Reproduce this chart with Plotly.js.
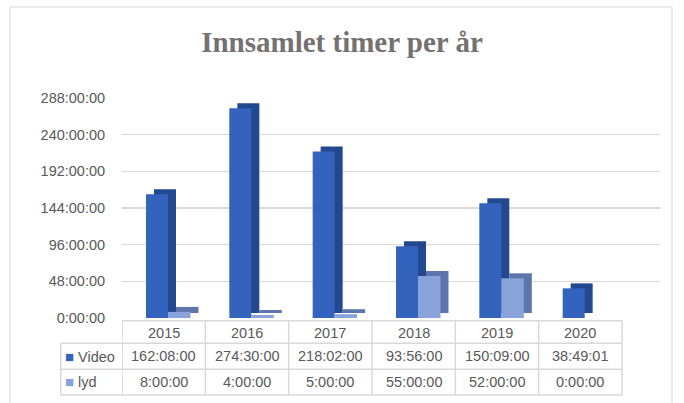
<!DOCTYPE html>
<html>
<head>
<meta charset="utf-8">
<script src="https://cdn.plot.ly/plotly-3.0.1.min.js"></script>
<style>html,body{margin:0;padding:0;background:#fff;}#chart{width:684px;height:403px;}</style>
</head>
<body>
<div id="chart"></div>
<script>
// ---- data ----
const years = ['2015', '2016', '2017', '2018', '2019', '2020'];
const videoLabels = ['162:08:00', '274:30:00', '218:02:00', '93:56:00', '150:09:00', '38:49:01'];
const lydLabels = ['8:00:00', '4:00:00', '5:00:00', '55:00:00', '52:00:00', '0:00:00'];
const videoHours = [162.133, 274.5, 218.033, 93.933, 150.15, 38.817];
const lydHours = [8, 4, 5, 55, 52, 0];
const seriesNames = ['Video', 'lyd'];
const yTickVals = [0, 48, 96, 144, 192, 240, 288];
const yTickText = ['0:00:00', '48:00:00', '96:00:00', '144:00:00', '192:00:00', '240:00:00', '288:00:00'];

// ---- styles ----
const videoFront = '#3463be', videoDepth = '#22498f';
const lydFront = '#88a2da', lydDepth = '#5c76ab';
const textColor = '#595959';
const lineColor = '#d9d9d9';
const depthH = 6.5; // visual depth of the 3D look, in axis units

const traces = [
  {type: 'bar', x: years, y: videoHours, base: depthH, offset: -0.116, width: 0.264,
   marker: {color: videoDepth}, hoverinfo: 'skip', showlegend: false},
  {type: 'bar', x: years, y: videoHours, name: seriesNames[0], offset: -0.212, width: 0.264,
   marker: {color: videoFront}, showlegend: false},
  {type: 'bar', x: years, y: lydHours, base: depthH, offset: 0.148, width: 0.27,
   marker: {color: lydDepth}, hoverinfo: 'skip', showlegend: false},
  {type: 'bar', x: years, y: lydHours, name: seriesNames[1], offset: 0.052, width: 0.27,
   marker: {color: lydFront}, showlegend: false}
];

// table geometry (paper y)
const rowLines = [-0.0123, -0.115, -0.233, -0.35];
const rowText = [-0.068, -0.173, -0.29];
const legendLeft = -0.1139;
const tableRight = years.length / (years.length + 0.456);

const shapes = [];
// outer chart border
shapes.push({type: 'rect', xref: 'paper', yref: 'paper', x0: -0.2082, x1: 1.0223, y0: -0.5, y1: 1.4136,
  line: {color: '#d9d9d9', width: 1}, fillcolor: 'rgba(0,0,0,0)', layer: 'below'});
// horizontal table lines
shapes.push({type: 'line', xref: 'x', yref: 'paper', x0: -0.5, x1: years.length - 0.5, y0: rowLines[0], y1: rowLines[0],
  line: {color: lineColor, width: 1.5}});
for (let i = 1; i < rowLines.length; i++) {
  shapes.push({type: 'line', xref: 'paper', yref: 'paper', x0: legendLeft, x1: tableRight, y0: rowLines[i], y1: rowLines[i],
    line: {color: lineColor, width: 1.5}});
}
// vertical table lines
for (let i = 0; i <= years.length; i++) {
  shapes.push({type: 'line', xref: 'x', yref: 'paper', x0: i - 0.5, x1: i - 0.5, y0: rowLines[0], y1: rowLines[3],
    line: {color: lineColor, width: 1.5}});
}
shapes.push({type: 'line', xref: 'paper', yref: 'paper', x0: legendLeft, x1: legendLeft, y0: rowLines[1], y1: rowLines[3],
  line: {color: lineColor, width: 1.5}});

const annotations = [];
const tf = {family: 'Liberation Sans, Arial, sans-serif', size: 14.5, color: textColor};
years.forEach((yr, i) => {
  annotations.push({x: i, xref: 'x', y: rowText[0], yref: 'paper', text: yr, showarrow: false, font: tf, xanchor: 'center', yanchor: 'middle'});
  annotations.push({x: i, xref: 'x', y: rowText[1], yref: 'paper', text: videoLabels[i], showarrow: false, font: tf, xanchor: 'center', yanchor: 'middle'});
  annotations.push({x: i, xref: 'x', y: rowText[2], yref: 'paper', text: lydLabels[i], showarrow: false, font: tf, xanchor: 'center', yanchor: 'middle'});
});
annotations.push({x: legendLeft + 0.004, xref: 'paper', y: rowText[1], yref: 'paper', xanchor: 'left', yanchor: 'middle', showarrow: false,
  text: '<span style="color:' + videoFront + ';font-size:15px">■</span> ' + seriesNames[0], font: tf});
annotations.push({x: legendLeft + 0.004, xref: 'paper', y: rowText[2], yref: 'paper', xanchor: 'left', yanchor: 'middle', showarrow: false,
  text: '<span style="color:' + lydFront + ';font-size:15px">■</span> ' + seriesNames[1], font: tf});

const layout = {
  width: 684, height: 403,
  margin: {l: 122, r: 24, t: 98, b: 85},
  paper_bgcolor: '#ffffff', plot_bgcolor: '#ffffff',
  title: {text: '<b>Innsamlet timer per år</b>', x: 0.5, xref: 'container', xanchor: 'center', y: 1 - 42 / 403, yanchor: 'middle',
    font: {family: 'Liberation Serif, Times New Roman, serif', size: 29, color: '#767171'}},
  barmode: 'overlay',
  xaxis: {type: 'category', range: [-0.5, 5.956], showticklabels: false, showgrid: false, zeroline: false, showline: false, ticks: '', fixedrange: true},
  yaxis: {range: [0, 288], tickvals: yTickVals, ticktext: yTickText, showgrid: true, gridcolor: '#dcd8d4', gridwidth: 1.5,
    zeroline: false, showline: false, ticks: 'outside', ticklen: 13, tickcolor: 'rgba(0,0,0,0)',
    tickfont: {family: 'Liberation Sans, Arial, sans-serif', size: 14.5, color: textColor}, fixedrange: true},
  shapes: shapes,
  annotations: annotations,
  showlegend: false
};

Plotly.newPlot('chart', traces, layout, {displayModeBar: false, staticPlot: true});
</script>
</body>
</html>
